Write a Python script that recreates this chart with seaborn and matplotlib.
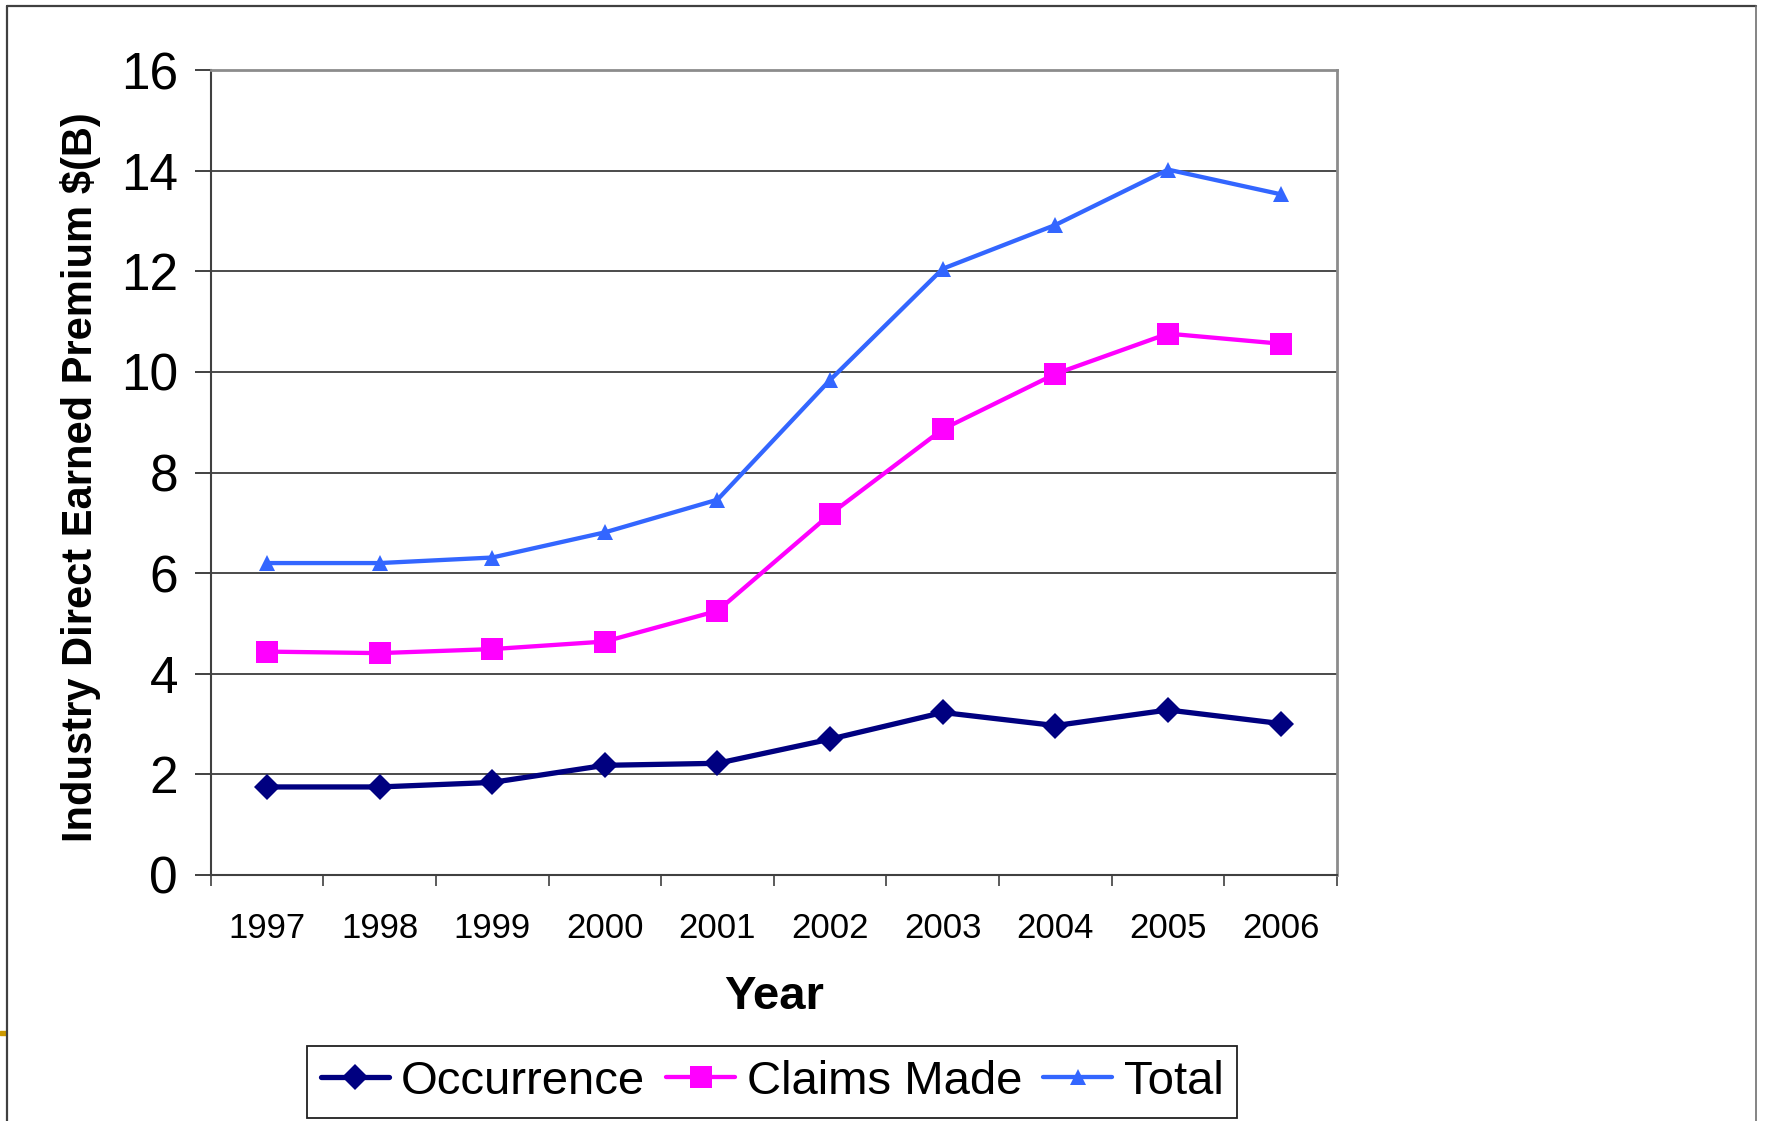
import numpy as np
import pandas as pd
import matplotlib
matplotlib.use("Agg")
import matplotlib.pyplot as plt
import seaborn as sns
from matplotlib.lines import Line2D
from matplotlib.patches import Rectangle

# ---- data ----
years = [1997, 1998, 1999, 2000, 2001, 2002, 2003, 2004, 2005, 2006]
occurrence = [1.75, 1.75, 1.84, 2.18, 2.22, 2.70, 3.23, 2.97, 3.28, 3.01]
claims_made = [4.44, 4.41, 4.49, 4.64, 5.25, 7.17, 8.86, 9.96, 10.76, 10.56]
total = [6.20, 6.20, 6.31, 6.81, 7.46, 9.84, 12.05, 12.92, 14.02, 13.53]
series_names = ["Occurrence", "Claims Made", "Total"]
y_ticks = [0, 2, 4, 6, 8, 10, 12, 14, 16]
x_label = "Year"
y_label = "Industry Direct Earned Premium $(B)"

sns.set_style("white")
plt.rcParams["font.family"] = ["Liberation Sans", "DejaVu Sans"]
plt.rcParams["text.color"] = "black"
plt.rcParams["axes.labelcolor"] = "black"
plt.rcParams["xtick.color"] = "black"
plt.rcParams["ytick.color"] = "black"

W, H = 1766, 1121
fig = plt.figure(figsize=(W / 100, H / 100), dpi=100)
left, right, top, bottom = 210.6, 1337, 70, 875
ax = fig.add_axes([left / W, 1 - bottom / H, (right - left) / W, (bottom - top) / H])

styles = [
    dict(color="#000080", marker="D", markersize=13.5, linewidth=3.8),
    dict(color="#FF00FF", marker="s", markersize=16, linewidth=3.1),
    dict(color="#3366FF", marker="^", markersize=12, linewidth=3.1),
]
values = [occurrence, claims_made, total]
for name, vals, st in zip(series_names, values, styles):
    df = pd.DataFrame({"Year": years, "Premium": vals})
    sns.lineplot(data=df, x="Year", y="Premium", ax=ax, label=name,
                 markeredgewidth=0, **st)

if ax.get_legend() is not None:
    ax.get_legend().remove()

ax.set_xlim(1996.5, 2006.5)
ax.set_ylim(0, 16)
ax.set_yticks(y_ticks)
ax.set_xticks(years)
ax.set_xticklabels([str(y) for y in years])
ax.set_xticks(np.arange(1996.5, 2007.0, 1.0), minor=True)

ax.tick_params(axis="x", which="major", length=0, pad=27, labelsize=25, bottom=True,
               labelcolor="black")
ax.tick_params(axis="x", which="minor", length=7.7, width=1.2, color="#404040",
               direction="out", bottom=True)
ax.tick_params(axis="y", which="major", length=11.5, width=1.2, color="#202020",
               pad=12, labelsize=37, direction="out", left=True, labelcolor="black")

ax.yaxis.grid(True, color="#1a1a1a", linewidth=1.1)
ax.xaxis.grid(False)
ax.set_axisbelow(True)

for s in ["left", "bottom"]:
    ax.spines[s].set_color("#404040")
    ax.spines[s].set_linewidth(1.5)
for s in ["top", "right"]:
    ax.spines[s].set_color("#8c8c8c")
    ax.spines[s].set_linewidth(2.0)

ax.set_xlabel(x_label, fontsize=34, fontweight="bold", color="black")
ax.xaxis.set_label_coords(0.5, -0.124)
ax.set_ylabel(y_label, fontsize=30, fontweight="bold", color="black")
ax.yaxis.set_label_coords(-0.097, 0.494)

handles = [Line2D([0], [0], markeredgewidth=0, **st) for st in styles]
leg = fig.legend(handles, series_names, loc="center",
                 bbox_to_anchor=(772 / W, 1 - 1082 / H), ncol=3, fontsize=34,
                 frameon=True, fancybox=False, shadow=False, handlelength=1.45,
                 handletextpad=0.25, columnspacing=0.45, borderpad=0.3,
                 borderaxespad=0)
leg.get_frame().set_edgecolor("#202020")
leg.get_frame().set_linewidth(1.3)
leg.get_frame().set_alpha(1)
for t in leg.get_texts():
    t.set_color("black")

# outer slide border
fig.add_artist(Line2D([7 / W, 7 / W], [0, 1 - 6 / H], color="#404040", lw=1.6,
                      transform=fig.transFigure))
fig.add_artist(Line2D([7 / W, 1756 / W], [1 - 6 / H, 1 - 6 / H], color="#404040",
                      lw=1.6, transform=fig.transFigure))
fig.add_artist(Line2D([1756 / W, 1756 / W], [0, 1 - 6 / H], color="#707070", lw=1.2,
                      transform=fig.transFigure))
fig.add_artist(Rectangle((0, 1 - 1035 / H), 6 / W, 4 / H, color="#CC9900",
                         transform=fig.transFigure))

fig.savefig("out.png", dpi=100)
